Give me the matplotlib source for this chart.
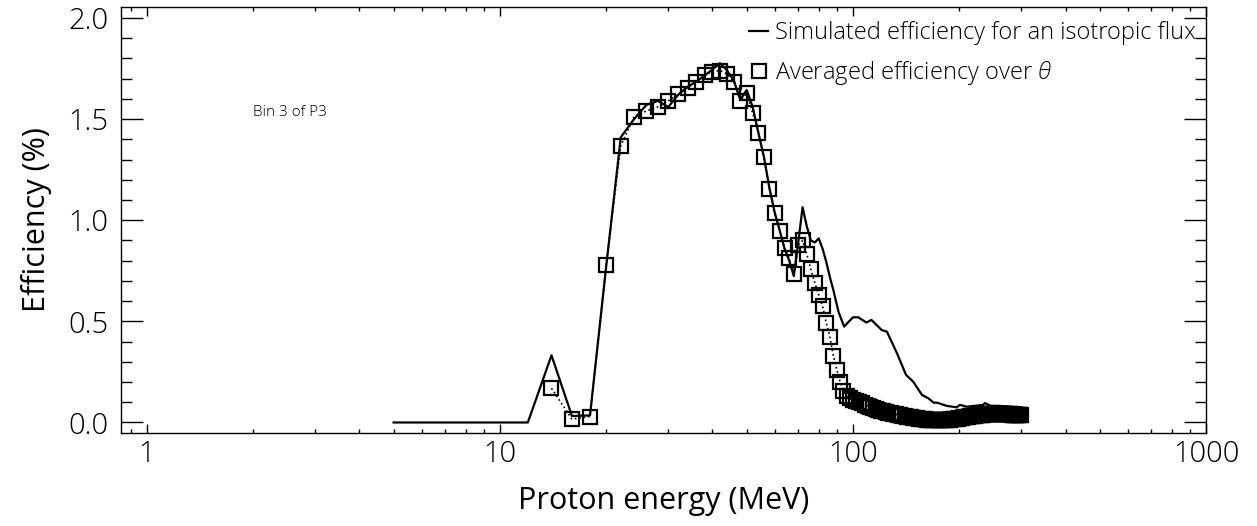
import matplotlib
matplotlib.use('Agg')
import matplotlib.pyplot as plt
from matplotlib.lines import Line2D
from matplotlib.ticker import FixedLocator, NullFormatter, MultipleLocator
import numpy as np

# simulated efficiency for an isotropic flux (solid line)
e_iso = [5, 12, 14, 16, 18, 20, 22, 24, 26, 28, 30, 32, 34, 36, 38, 40, 42, 44, 46, 48,
         50, 52, 54, 56, 58, 60, 62, 64, 66, 68, 70, 72, 74, 76, 78, 80, 82, 84, 86, 88,
         91, 94.4, 100, 103.5, 109.2, 112.8, 120.6, 124.8, 133.3, 141.4, 148.1, 156.9,
         163.4, 169.2, 173, 184.5, 196.6, 201, 210, 233.5, 236.6, 245, 261.4, 285, 300]
eff_iso = [0.0, 0.0, 0.332, 0.032, 0.035, 0.77, 1.41, 1.50, 1.57, 1.59, 1.56, 1.62, 1.66,
           1.685, 1.715, 1.745, 1.776, 1.74, 1.69, 1.595, 1.644, 1.56, 1.43, 1.31, 1.16,
           1.04, 0.95, 0.86, 0.80, 0.724, 0.89, 1.064, 0.97, 0.90, 0.89, 0.91, 0.86, 0.795,
           0.72, 0.655, 0.548, 0.474, 0.52, 0.52, 0.494, 0.507, 0.457, 0.449, 0.342, 0.235,
           0.202, 0.136, 0.12, 0.098, 0.098, 0.082, 0.075, 0.087, 0.078, 0.087, 0.096,
           0.083, 0.082, 0.075, 0.075]

# efficiency averaged over theta (squares), 2 MeV grid from 14 to 300 MeV
e_avg = list(range(14, 302, 2))
eff_avg = [0.169, 0.017, 0.029, 0.78, 1.367, 1.512, 1.54, 1.56, 1.59, 1.623, 1.655, 1.682,
           1.718, 1.735, 1.74, 1.723, 1.685, 1.59, 1.63, 1.53, 1.433, 1.311, 1.154, 1.034,
           0.948, 0.861, 0.812, 0.734, 0.877, 0.90, 0.833, 0.757, 0.69, 0.63, 0.576, 0.494,
           0.424, 0.33, 0.26, 0.20, 0.155, 0.13, 0.12, 0.11,
           0.105, 0.10, 0.094, 0.088, 0.082, 0.077, 0.072, 0.067, 0.062, 0.058,
           0.055, 0.052, 0.049, 0.046, 0.043, 0.041, 0.038, 0.036, 0.034, 0.031,
           0.029, 0.027, 0.025, 0.023, 0.021, 0.020, 0.018, 0.017, 0.016, 0.015,
           0.014, 0.013, 0.012, 0.012, 0.011, 0.011, 0.011, 0.011, 0.011, 0.012,
           0.012, 0.013, 0.013, 0.014, 0.015, 0.016, 0.017, 0.018, 0.019, 0.021,
           0.022, 0.023, 0.025, 0.026, 0.027, 0.028, 0.030, 0.031, 0.032, 0.033,
           0.034, 0.035, 0.036, 0.037, 0.038, 0.039, 0.039, 0.040, 0.040, 0.041,
           0.041, 0.042, 0.042, 0.042, 0.042, 0.043, 0.043, 0.043, 0.042, 0.042,
           0.042, 0.042, 0.042, 0.041, 0.041, 0.041, 0.041, 0.040, 0.040, 0.040,
           0.039, 0.039, 0.039, 0.038, 0.038, 0.038, 0.037, 0.037, 0.036, 0.036]

x_ticks = [1, 10, 100, 1000]
x_ticklabels = ['1', '10', '100', '1000']

plt.rcParams['font.family'] = ['Open Sans', 'DejaVu Sans']
plt.rcParams['font.weight'] = 'light'
plt.rcParams['mathtext.fontset'] = 'custom'
plt.rcParams['mathtext.it'] = 'Open Sans:italic:light'

fig = plt.figure(figsize=(12.57, 5.26), dpi=100)
ax = fig.add_axes([121 / 1257, 93 / 526, 1085 / 1257, 426 / 526])

ax.plot(e_iso, eff_iso, '-', color='black', lw=1.6)
ax.plot(e_avg, eff_avg, ':', color='black', lw=1.2, marker='s', ms=9.5, mfc='none',
        mec='black', mew=1.6)

ax.set_xscale('log')
ax.set_xlim(0.845, 1000)
ax.set_ylim(-0.052, 2.054)

ax.xaxis.set_major_locator(FixedLocator(x_ticks))
ax.set_xticklabels(x_ticklabels)
ax.xaxis.set_minor_locator(FixedLocator([m * d for d in [1, 10, 100] for m in range(2, 10)] + [0.9]))
ax.xaxis.set_minor_formatter(NullFormatter())
ax.yaxis.set_major_locator(MultipleLocator(0.5))
ax.yaxis.set_minor_locator(MultipleLocator(0.1))
ax.yaxis.set_major_formatter(plt.FuncFormatter(lambda v, p: '%.1f' % v))

ax.tick_params(axis='both', which='both', direction='in', top=True, right=True, width=1.0)
ax.tick_params(axis='x', which='major', length=6.2, pad=5, labelsize=21)
ax.tick_params(axis='x', which='minor', length=3.1)
ax.tick_params(axis='y', which='major', length=15.6, pad=9, labelsize=21)
ax.tick_params(axis='y', which='minor', length=7.8)
for s in ax.spines.values():
    s.set_linewidth(1.0)

ax.set_xlabel('Proton energy (MeV)', fontsize=22, labelpad=12)
ax.set_ylabel('Efficiency (%)', fontsize=22, labelpad=12)

ax.text(0.122, 0.745, 'Bin 3 of P3', transform=ax.transAxes, fontsize=11)

# legend handles: short solid line and an open square
h_line = Line2D([], [], color='black', lw=1.6)
h_sq = Line2D([], [], ls='none', marker='s', ms=9.5, mfc='none', mec='black', mew=1.6)
ax.legend([h_line, h_sq], ['Simulated efficiency for an isotropic flux',
                           r'Averaged efficiency over $\theta$'],
          loc='upper left', bbox_to_anchor=(0.566, 1.0), frameon=False, fontsize=17,
          handlelength=0.8, handletextpad=0.3, labelspacing=0.6, borderaxespad=0.2)

fig.savefig('out.png', dpi=100)
